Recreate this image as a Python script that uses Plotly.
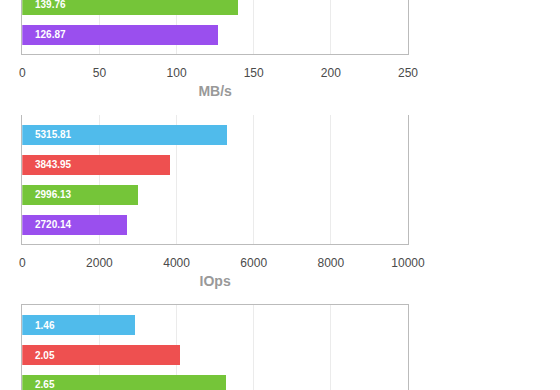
import plotly.graph_objects as go

# ---- data ----
mbs_cats = ["green", "purple"]
mbs_values = [139.76, 126.87]
mbs_colors = ["#75C539", "#9A4FEE"]

iops_cats = ["blue", "red", "green", "purple"]
iops_values = [5315.81, 3843.95, 2996.13, 2720.14]
iops_colors = ["#50BBEB", "#EE5050", "#75C539", "#9A4FEE"]

lat_cats = ["blue", "red", "green"]
lat_values = [1.46, 2.05, 2.65]
lat_colors = ["#50BBEB", "#EE5050", "#75C539"]

mbs_ticks = [0, 50, 100, 150, 200, 250]
iops_ticks = [0, 2000, 4000, 6000, 8000, 10000]
iops_ticklabels = ["0", "2000", "4000", "6000", "8000", "10000"]

W, H = 560, 390
def px_y(p):
    return 1 - p / H

fig = go.Figure()

XDOM = [20 / W, 420 / W]
FONT = "Liberation Sans, Arial, sans-serif"
BORDER = "#BBBBBB"
GRID = "#EBEBEB"

panels = [
    (mbs_cats, mbs_values, mbs_colors, "x", "y"),
    (iops_cats, iops_values, iops_colors, "x2", "y2"),
    (lat_cats, lat_values, lat_colors, "x3", "y3"),
]

annotations = []
for cats, vals, cols, xa, ya in panels:
    fig.add_trace(go.Bar(
        x=vals, y=list(range(len(cats))), orientation="h",
        marker=dict(color=cols, line=dict(width=0)),
        width=20 / 30, xaxis=xa, yaxis=ya, hoverinfo="skip",
        showlegend=False,
    ))
    for i, v in enumerate(vals):
        annotations.append(dict(
            x=0, y=i, xref=xa, yref=ya, text=f"{v:.2f}", showarrow=False,
            xanchor="left", yanchor="middle", xshift=11,
            font=dict(family=FONT, size=10, color="white", weight="bold"),
        ))

common_x = dict(
    showgrid=True, gridcolor=GRID, gridwidth=1, zeroline=False,
    showline=True, linecolor=BORDER, linewidth=1, ticks="",
    tickfont=dict(family=FONT, size=12, color="#4a4a4a"),
    domain=XDOM, fixedrange=True,
)
common_y = dict(
    showgrid=False, zeroline=False, showticklabels=False,
    showline=True, linecolor=BORDER, linewidth=1, mirror=True, ticks="",
    fixedrange=True,
)
title_font = dict(family=FONT, size=14, color="#999999", weight="bold")

fig.update_layout(
    width=W, height=H, autosize=False,
    margin=dict(l=0, r=0, t=0, b=0),
    paper_bgcolor="white", plot_bgcolor="white",
    bargap=0,
    annotations=annotations,
    xaxis=dict(common_x, range=[0, 250], tickvals=mbs_ticks, anchor="y",
               title=dict(text="MB/s", font=title_font, standoff=6),
               ticklabelstandoff=8),
    yaxis=dict(common_y, domain=[px_y(54), 1], range=[1.65, -0.15], anchor="x"),
    xaxis2=dict(common_x, range=[0, 10000], tickvals=iops_ticks,
                ticktext=iops_ticklabels, anchor="y2",
                title=dict(text="IOps", font=title_font, standoff=6),
                ticklabelstandoff=8),
    yaxis2=dict(common_y, domain=[px_y(244), px_y(115)], range=[3.65, -0.65], anchor="x2"),
    xaxis3=dict(common_x, range=[0, 5], tickvals=[0, 1, 2, 3, 4, 5], anchor="y3",
                side="top", showticklabels=False),
    yaxis3=dict(common_y, domain=[0, px_y(305)], range=[2.5 - 0.333, -0.667], anchor="x3"),
)

fig.write_html(
    "out.html",
    config={"displayModeBar": False, "responsive": False},
    post_script="document.body.style.margin='0';document.body.style.overflow='hidden';",
)
